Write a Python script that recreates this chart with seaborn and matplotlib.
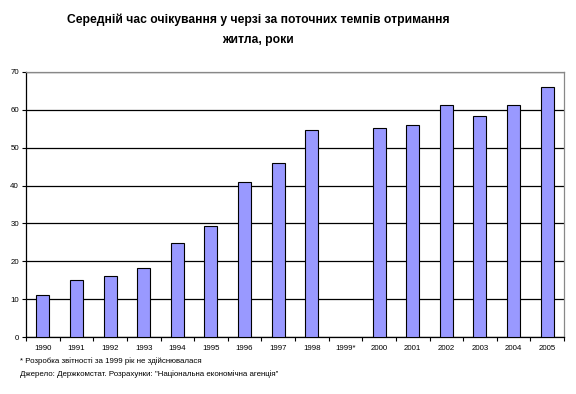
import numpy as np
import pandas as pd
import matplotlib
matplotlib.use("Agg")
import matplotlib.pyplot as plt
import seaborn as sns
from matplotlib.ticker import FixedLocator

years = ["1990", "1991", "1992", "1993", "1994", "1995", "1996", "1997", "1998",
         "1999*", "2000", "2001", "2002", "2003", "2004", "2005"]
values = [11.1, 15.1, 16.1, 18.2, 24.8, 29.4, 41.0, 46.0, 54.8,
          np.nan, 55.2, 56.0, 61.3, 58.4, 61.3, 66.0]
yticks = [0, 10, 20, 30, 40, 50, 60, 70]
title = "Середній час очікування у черзі за поточних темпів отримання\nжитла, роки"
note1 = "* Розробка звітності за 1999 рік не здійснювалася"
note2 = "Джерело: Держкомстат. Розрахунки: \"Національна економічна агенція\""

sns.set_theme(style="white")
plt.rcParams['font.family'] = ['Liberation Sans', 'DejaVu Sans']
plt.rcParams['text.color'] = 'black'
plt.rcParams['xtick.color'] = 'black'
plt.rcParams['ytick.color'] = 'black'

df = pd.DataFrame({"year": years, "value": values})

fig = plt.figure(figsize=(5.76, 3.94), dpi=100)
ax = fig.add_axes([26/576, 1-337/394, (564-26)/576, (337-72)/394])

sns.barplot(data=df, x="year", y="value", order=years, color="#9999FF",
            saturation=1, width=0.39, edgecolor="black", linewidth=0.8, ax=ax, zorder=3)

ax.set_ylim(0, 70)
ax.set_xlim(-0.5, len(years) - 0.5)
ax.set_yticks(yticks)
ax.set_yticklabels([str(t) for t in yticks], fontsize=5.5)
ax.yaxis.grid(True, color="black", linewidth=0.9, zorder=0)
ax.set_axisbelow(True)
ax.set_xlabel("")
ax.set_ylabel("")
ax.tick_params(axis="x", which="major", length=0, labelsize=5.7, pad=6)
ax.tick_params(axis="y", which="major", length=3, width=0.8, color="black", labelsize=5.7, pad=2, direction="out", left=True)
ax.xaxis.set_minor_locator(FixedLocator(np.arange(-0.5, len(years), 1.0)))
ax.tick_params(axis="x", which="minor", length=3, width=0.8, color="black", direction="out", bottom=True)

for s in ["left", "bottom"]:
    ax.spines[s].set_color("black")
    ax.spines[s].set_linewidth(0.9)
for s in ["top", "right"]:
    ax.spines[s].set_color("#888888")
    ax.spines[s].set_linewidth(0.9)
    ax.spines[s].set_visible(True)

lines = title.split("\n")
fig.text(258/576, 1-20/394, lines[0], ha="center", va="center", fontsize=8.7,
         fontweight="bold")
fig.text(258/576, 1-40/394, lines[1], ha="center", va="center", fontsize=8.7,
         fontweight="bold")
fig.text(20/576, 1-361/394, note1, ha="left", va="center", fontsize=5.7)
fig.text(20/576, 1-374/394, note2, ha="left", va="center", fontsize=5.7)

fig.savefig("out.png", dpi=100, facecolor="white")
